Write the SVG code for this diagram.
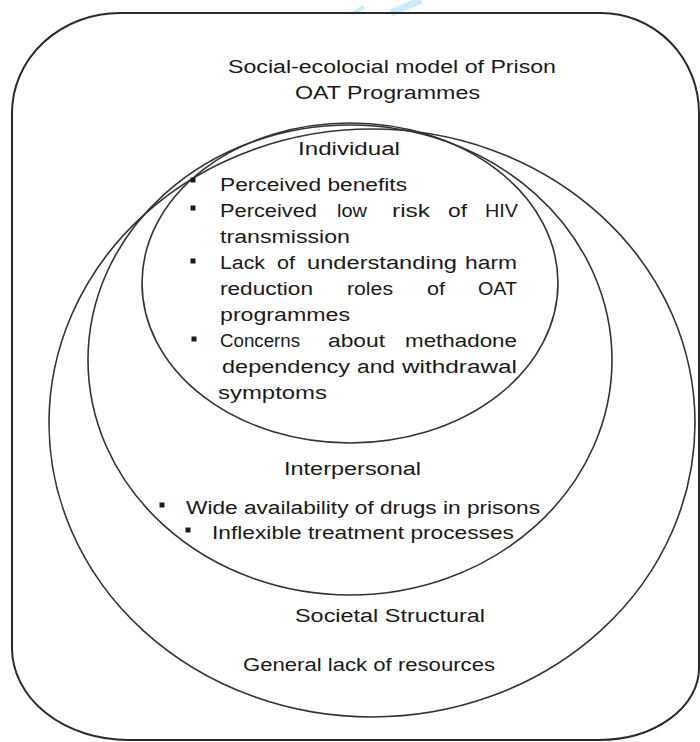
<svg xmlns="http://www.w3.org/2000/svg" width="700" height="742" viewBox="0 0 700 742">
<style>
.bg{fill:#ffffff}
.ring{fill:none;stroke:#333333;stroke-width:1.6}
.frame{fill:none;stroke:#2a2a2a;stroke-width:2}
.t{font-family:"Liberation Sans","Open Sans",sans-serif;font-size:18px;fill:#1a1a1a}
.b{fill:#1a1a1a}
.wm{stroke:#c9ecfb;stroke-linecap:butt;fill:none}
</style>
<rect class="bg" x="0" y="0" width="700" height="742"/>
<g id="watermark">
<line class="wm" x1="352" y1="14" x2="364" y2="7" stroke-width="4"/>
<line class="wm" x1="391" y1="13" x2="421" y2="0" stroke-width="7"/>
</g>
<g id="model">
<path class="frame" d="M120 13 L601 13 A98 100 0 0 1 699 113 L699 668 A100 72 0 0 1 599 740 L128 740 A116 92 0 0 1 12 648 L12 113 A108 100 0 0 1 120 13 Z"/>
<text class="t" x="228" y="73" textLength="328" lengthAdjust="spacingAndGlyphs">Social-ecolocial model of Prison</text>
<text class="t" x="295" y="99" textLength="185" lengthAdjust="spacingAndGlyphs">OAT Programmes</text>
</g>
<g id="societal">
<ellipse class="ring" cx="372" cy="423" rx="323" ry="294"/>
<text class="t" x="295" y="622" textLength="190" lengthAdjust="spacingAndGlyphs">Societal Structural</text>
<text class="t" x="243" y="671" textLength="252" lengthAdjust="spacingAndGlyphs">General lack of resources</text>
</g>
<g id="interpersonal">
<ellipse class="ring" cx="350" cy="360" rx="262" ry="235"/>
<text class="t" x="284" y="475" textLength="137" lengthAdjust="spacingAndGlyphs">Interpersonal</text>
<rect class="b" x="159.5" y="502.5" width="5" height="5"/>
<text class="t" x="186" y="514" textLength="354" lengthAdjust="spacingAndGlyphs">Wide availability of drugs in prisons</text>
<rect class="b" x="185.5" y="527.5" width="5" height="5"/>
<text class="t" x="212" y="539" textLength="302" lengthAdjust="spacingAndGlyphs">Inflexible treatment processes</text>
</g>
<g id="individual">
<ellipse class="ring" cx="350" cy="283" rx="208" ry="160"/>
<text class="t" x="298" y="155" textLength="102" lengthAdjust="spacingAndGlyphs">Individual</text>
<rect class="b" x="190.5" y="177.5" width="5" height="5"/>
<text class="t" x="220" y="191" textLength="187" lengthAdjust="spacingAndGlyphs">Perceived benefits</text>
<rect class="b" x="190.5" y="205.5" width="5" height="5"/>
<text class="t" x="220" y="217" textLength="97" lengthAdjust="spacingAndGlyphs">Perceived</text>
<text class="t" x="337" y="217" textLength="30" lengthAdjust="spacingAndGlyphs">low</text>
<text class="t" x="392" y="217" textLength="38" lengthAdjust="spacingAndGlyphs">risk</text>
<text class="t" x="448" y="217" textLength="19" lengthAdjust="spacingAndGlyphs">of</text>
<text class="t" x="485" y="217" textLength="33" lengthAdjust="spacingAndGlyphs">HIV</text>
<text class="t" x="220" y="243" textLength="130" lengthAdjust="spacingAndGlyphs">transmission</text>
<rect class="b" x="190.5" y="258.5" width="5" height="5"/>
<text class="t" x="220" y="269" textLength="45" lengthAdjust="spacingAndGlyphs">Lack</text>
<text class="t" x="277" y="269" textLength="18" lengthAdjust="spacingAndGlyphs">of</text>
<text class="t" x="307" y="269" textLength="150" lengthAdjust="spacingAndGlyphs">understanding</text>
<text class="t" x="465" y="269" textLength="52" lengthAdjust="spacingAndGlyphs">harm</text>
<text class="t" x="220" y="295" textLength="93" lengthAdjust="spacingAndGlyphs">reduction</text>
<text class="t" x="347" y="295" textLength="46" lengthAdjust="spacingAndGlyphs">roles</text>
<text class="t" x="427" y="295" textLength="18" lengthAdjust="spacingAndGlyphs">of</text>
<text class="t" x="478" y="295" textLength="39" lengthAdjust="spacingAndGlyphs">OAT</text>
<text class="t" x="220" y="321" textLength="130" lengthAdjust="spacingAndGlyphs">programmes</text>
<rect class="b" x="191.5" y="336.5" width="5" height="5"/>
<text class="t" x="220" y="347" textLength="80" lengthAdjust="spacingAndGlyphs">Concerns</text>
<text class="t" x="328" y="347" textLength="57" lengthAdjust="spacingAndGlyphs">about</text>
<text class="t" x="405" y="347" textLength="112" lengthAdjust="spacingAndGlyphs">methadone</text>
<text class="t" x="222" y="373" textLength="128" lengthAdjust="spacingAndGlyphs">dependency</text>
<text class="t" x="357" y="373" textLength="38" lengthAdjust="spacingAndGlyphs">and</text>
<text class="t" x="402" y="373" textLength="115" lengthAdjust="spacingAndGlyphs">withdrawal</text>
<text class="t" x="218" y="399" textLength="109" lengthAdjust="spacingAndGlyphs">symptoms</text>
</g>
<g id="connectors"></g>
</svg>
